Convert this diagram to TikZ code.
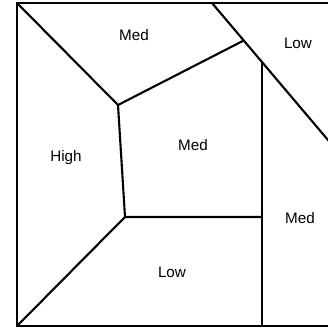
\documentclass[tikz,border=0pt]{standalone}
\usepackage{fontspec}
\setmainfont{Liberation Sans}
\usepackage{tikz}
\usetikzlibrary{calc}
\tikzset{
  edge/.style = {line width=1.8pt, line join=miter},
  lbl/.style  = {inner sep=0pt, font=\fontsize{13}{15}\selectfont},
}

\begin{document}
\begin{tikzpicture}[x=0.03cm, y=-0.03cm]

  \useasboundingbox (0,0) rectangle (328,328);
  \clip (0,0) rectangle (328,328);

  %% --- corners and inner points ---
  \coordinate (tl) at (17,3);
  \coordinate (bl) at (17,326);
  \coordinate (tr) at (345,3);
  \coordinate (br) at (345,326);
  \coordinate (ptA) at (118,105);
  \coordinate (ptC) at (125,217);
  \coordinate (dgTop) at (212,3);
  \coordinate (dgEnd) at (350,166);
  \coordinate (ptB) at ($(dgTop)!0.23!(dgEnd)$);
  \coordinate (ptV) at ($(dgTop)!0.362!(dgEnd)$);
  \coordinate (ptD) at (ptV |- ptC);
  \coordinate (ptE) at (ptV |- bl);

  %% --- outer frame ---
  \draw[edge] (tr) -- (tl) -- (bl) -- (br);

  %% --- inner lines ---
  \draw[edge] (tl) -- (ptA) -- (ptB);
  \draw[edge] (ptA) -- (ptC) -- (ptD);
  \draw[edge] (ptC) -- (bl);
  \draw[edge] (dgTop) -- (dgEnd);
  \draw[edge] (ptV) -- (ptE);

  %% --- region labels ---
  \node[lbl] (medTop)   at (134,35)  {Med};
  \node[lbl] (lowTop)   at (298,43)  {Low};
  \node[lbl] (high)     at (66,158)  {High};
  \node[lbl] (medMid)   at (193,145) {Med};
  \node[lbl] (medRight) at (300,218) {Med};
  \node[lbl] (lowBot)   at (172,272) {Low};

\end{tikzpicture}
\end{document}
